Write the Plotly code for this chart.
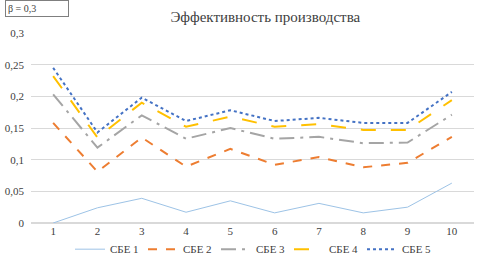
import plotly.graph_objects as go

categories = [1, 2, 3, 4, 5, 6, 7, 8, 9, 10]
sbe1 = [0.0, 0.024, 0.039, 0.017, 0.035, 0.016, 0.031, 0.016, 0.025, 0.063]
sbe2 = [0.158, 0.081, 0.135, 0.089, 0.117, 0.092, 0.104, 0.088, 0.095, 0.136]
sbe3 = [0.203, 0.119, 0.170, 0.133, 0.150, 0.133, 0.136, 0.126, 0.127, 0.171]
sbe4 = [0.232, 0.135, 0.190, 0.152, 0.168, 0.152, 0.156, 0.147, 0.147, 0.194]
sbe5 = [0.245, 0.143, 0.198, 0.161, 0.178, 0.161, 0.166, 0.158, 0.158, 0.207]
names = ["СБЕ 1", "СБЕ 2", "СБЕ 3", "СБЕ 4", "СБЕ 5"]
y_ticks = [0, 0.05, 0.1, 0.15, 0.2, 0.25, 0.3]
y_tick_labels = ["0", "0,05", "0,1", "0,15", "0,2", "0,25", "0,3"]

styles = [
    dict(color="#9DC3E6", width=1, dash="solid"),
    dict(color="#ED7D31", width=2, dash="dash"),
    dict(color="#A5A5A5", width=2, dash="longdashdot"),
    dict(color="#FFC000", width=2, dash="longdash"),
    dict(color="#4472C4", width=2, dash="dot"),
]

fig = go.Figure()
xs = [str(c) for c in categories]
for name, vals, st in zip(names, [sbe1, sbe2, sbe3, sbe4, sbe5], styles):
    fig.add_trace(go.Scatter(x=xs, y=vals, mode="lines", name=name, line=st))

font = "Liberation Serif"
fig.update_layout(
    width=478, height=265,
    margin=dict(l=31, r=4, t=33, b=42),
    paper_bgcolor="white", plot_bgcolor="white",
    font=dict(family=font, size=11, color="#404040"),
    title=dict(text="Эффективность производства", x=0.555, xanchor="center",
               y=0.935, yanchor="middle", font=dict(family=font, size=15, color="#404040")),
    showlegend=True,
    legend=dict(orientation="h", x=0.5, xanchor="center", yref="container", y=0.005,
                yanchor="bottom", font=dict(family=font, size=11, color="#404040"),
                itemwidth=30, tracegroupgap=0, entrywidth=28, entrywidthmode="pixels"),
    xaxis=dict(type="category", range=[-0.5, 9.5], showgrid=False, showline=False, ticks="",
               automargin=False, tickfont=dict(family=font, size=11, color="#404040")),
    yaxis=dict(range=[0, 0.3], tickvals=y_ticks, ticktext=y_tick_labels, automargin=False,
               showgrid=True, gridcolor="#D9D9D9", gridwidth=1, zeroline=True,
               zerolinecolor="#D9D9D9", showline=False, ticks="", ticklabelstandoff=6,
               tickfont=dict(family=font, size=11, color="#404040")),
    annotations=[dict(text="β = 0,3", xref="paper", yref="paper", x=-0.058, y=1.13,
                      xanchor="left", yanchor="middle", showarrow=False,
                      bordercolor="#7F7F7F", borderwidth=1, borderpad=2,
                      width=58, align="left",
                      font=dict(family=font, size=10, color="#404040"))],
)
fig.write_html("out.html", config={"displayModeBar": False},
               post_script="document.body.style.margin='0';")
